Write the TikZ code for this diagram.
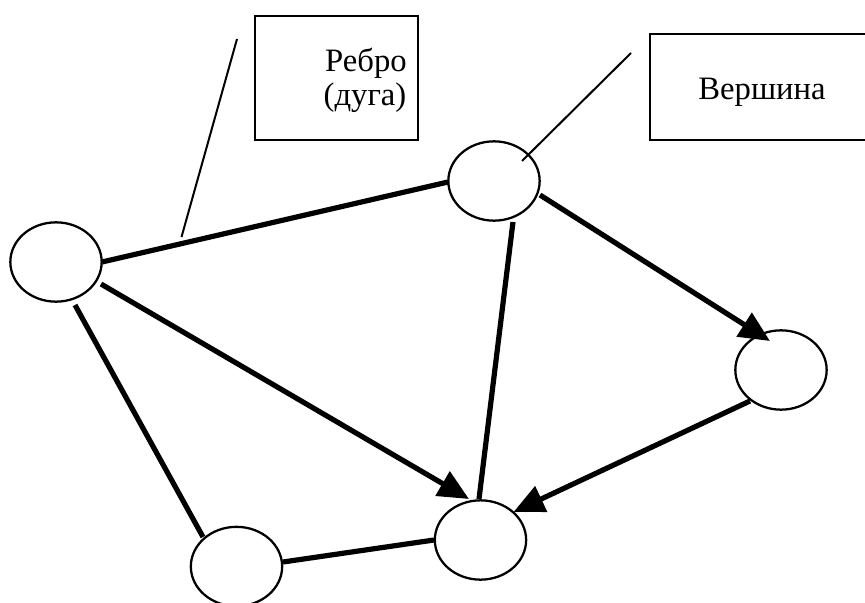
\documentclass[tikz,border=0pt]{standalone}
\usepackage{fontspec}
\setmainfont{Liberation Serif}
\usetikzlibrary{arrows.meta,calc,shapes.geometric}
\begin{document}
\begin{tikzpicture}[x=0.75pt,y=-0.75pt,
  vertex/.style={ellipse,draw,line width=1.7pt,inner sep=0pt,minimum width=68.5pt,minimum height=59.5pt},
  edgeline/.style={line width=3.9pt},
  arc/.style={edgeline,-{Triangle[length=23pt,width=20.5pt]}},
  pointer/.style={line width=1.5pt},
  labelbox/.style={draw,line width=2pt,rectangle,inner sep=0pt},
  labeltext/.style={font=\fontsize{24.5}{27}\selectfont,inner sep=0pt}]
\useasboundingbox (0,0) rectangle (865,603);

% callout boxes
\node[labelbox,minimum width=122.25pt,minimum height=93pt] (box1) at (336.5,78) {};
\node[labelbox,minimum width=172.5pt,minimum height=79.5pt] (box2) at (765,87) {};
\node[labeltext,anchor=base] (t1a) at (366,71) {Ребро};
\node[labeltext,anchor=base] (t1b) at (365,105) {(дуга)};
\node[labeltext,anchor=base] (t2) at (762,99) {Вершина};

% vertices
\node[vertex] (A) at (56,262) {};
\node[vertex] (B) at (494,181) {};
\node[vertex] (C) at (781,370) {};
\node[vertex] (D) at (480.5,540) {};
\node[vertex] (E) at (236.5,566.5) {};

% edges
\draw[edgeline] ($(A.center)+(46,0)$) -- ($(B.center)+(-46,1)$);
\draw[arc] ($(A.center)+(45,22)$) -- ($(D.center)+(-11.5,-41)$);
\draw[edgeline] ($(B.center)+(19,41)$) -- ($(D.center)+(-1.5,-41)$);
\draw[arc] ($(B.center)+(46,14)$) -- ($(C.center)+(-11,-29)$);
\draw[arc] ($(C.center)+(-31,31)$) -- ($(D.center)+(33,-28)$);
\draw[edgeline] ($(A.center)+(19,43)$) -- ($(E.center)+(-33.5,-29.5)$);
\draw[edgeline] ($(E.center)+(46.5,-4.5)$) -- ($(D.center)+(-46.5,0)$);

% pointer lines
\coordinate (p1s) at (237,39);
\coordinate (p1e) at (181.5,237);
\coordinate (p2s) at (631,53);
\draw[pointer] (p1s) -- (p1e);
\draw[pointer] (p2s) -- ($(B.center)+(28,-20)$);
\end{tikzpicture}
\end{document}
